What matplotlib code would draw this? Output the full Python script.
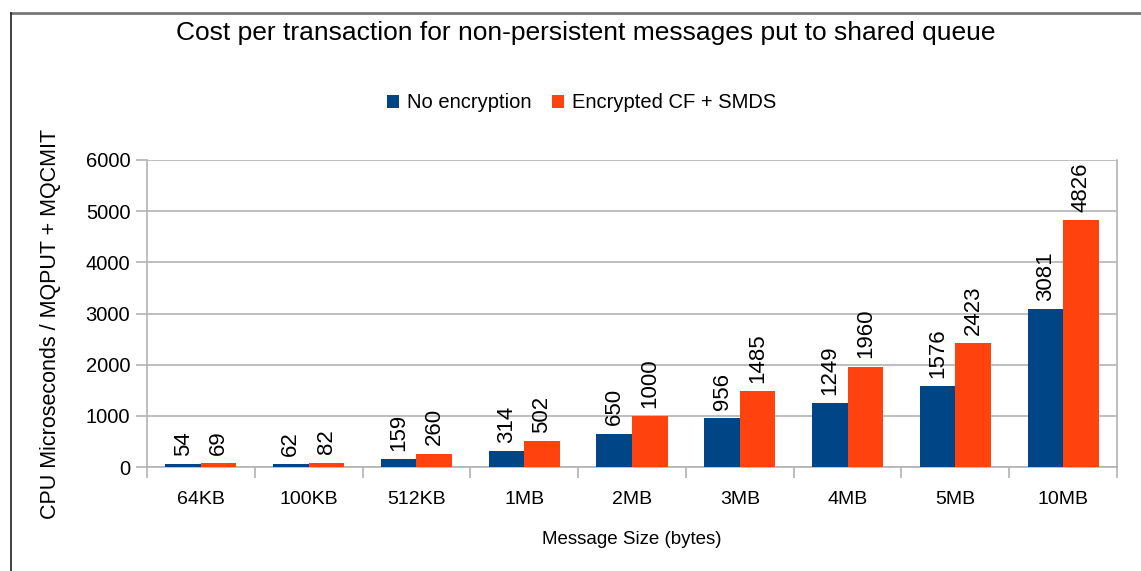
import numpy as np
import matplotlib
matplotlib.use("Agg")
import matplotlib.pyplot as plt
from matplotlib.lines import Line2D

plt.rcParams["font.family"] = ["Liberation Sans", "DejaVu Sans"]

sizes = ["64KB", "100KB", "512KB", "1MB", "2MB", "3MB", "4MB", "5MB", "10MB"]
no_encryption = [54, 62, 159, 314, 650, 956, 1249, 1576, 3081]
encrypted = [69, 82, 260, 502, 1000, 1485, 1960, 2423, 4826]

BLUE = "#004586"
ORANGE = "#ff420e"
GRID = "#b3b3b3"

fig = plt.figure(figsize=(11.41, 5.71), dpi=100)
ax = fig.add_axes([0.1288, 0.1821, 0.8502, 0.5377])

x = np.arange(len(sizes))
w = 0.33
b1 = ax.bar(x - w / 2, no_encryption, w, color=BLUE, label="No encryption", zorder=3)
b2 = ax.bar(x + w / 2, encrypted, w, color=ORANGE, label="Encrypted CF + SMDS", zorder=3)

for bars in (b1, b2):
    for rect in bars:
        h = rect.get_height()
        ax.annotate(f"{h:.0f}", (rect.get_x() + rect.get_width() / 2, h),
                    xytext=(0, 6), textcoords="offset points",
                    rotation=90, ha="center", va="bottom", fontsize=16)

ax.set_xlim(-0.5, len(sizes) - 0.5)
ax.set_ylim(0, 6000)
ax.set_yticks(range(0, 6001, 1000))
ax.set_xticks(x)
ax.set_xticklabels(sizes, fontsize=14)
ax.set_xticks(np.arange(-0.5, len(sizes)), minor=True)
ax.tick_params(axis="x", which="major", length=0, pad=17)
ax.tick_params(axis="x", which="minor", length=8, color=GRID, width=1.2)
ax.tick_params(axis="y", length=8, color=GRID, width=1.2, labelsize=14.5, pad=4)

ax.grid(axis="y", color=GRID, linewidth=1.2, zorder=0)
ax.spines["top"].set_visible(False)
for side in ("left", "right", "bottom"):
    ax.spines[side].set_color(GRID)
    ax.spines[side].set_linewidth(1.2)

ax.set_xlabel("Message Size (bytes)", fontsize=13.5, labelpad=17)
ax.set_ylabel("CPU Microseconds / MQPUT + MQCMIT", fontsize=15.5)
ax.yaxis.set_label_coords(-0.089, 0.466)

fig.text(0.513, 0.942, "Cost per transaction for non-persistent messages put to shared queue",
         ha="center", va="center", fontsize=19)

fig.legend(handles=[b1, b2], loc="center", bbox_to_anchor=(0.51, 0.82), ncol=2,
           frameon=False, fontsize=14.5, handlelength=0.6, handleheight=0.6,
           handletextpad=0.4, columnspacing=1.0)

# frame lines around the picture
fig.add_artist(Line2D([0.0096, 1.0], [0.978, 0.978], color="#777777", linewidth=2))
fig.add_artist(Line2D([0.0096, 0.0096], [0.0, 0.978], color="#222222", linewidth=1.2))

fig.savefig("out.png", dpi=100)
